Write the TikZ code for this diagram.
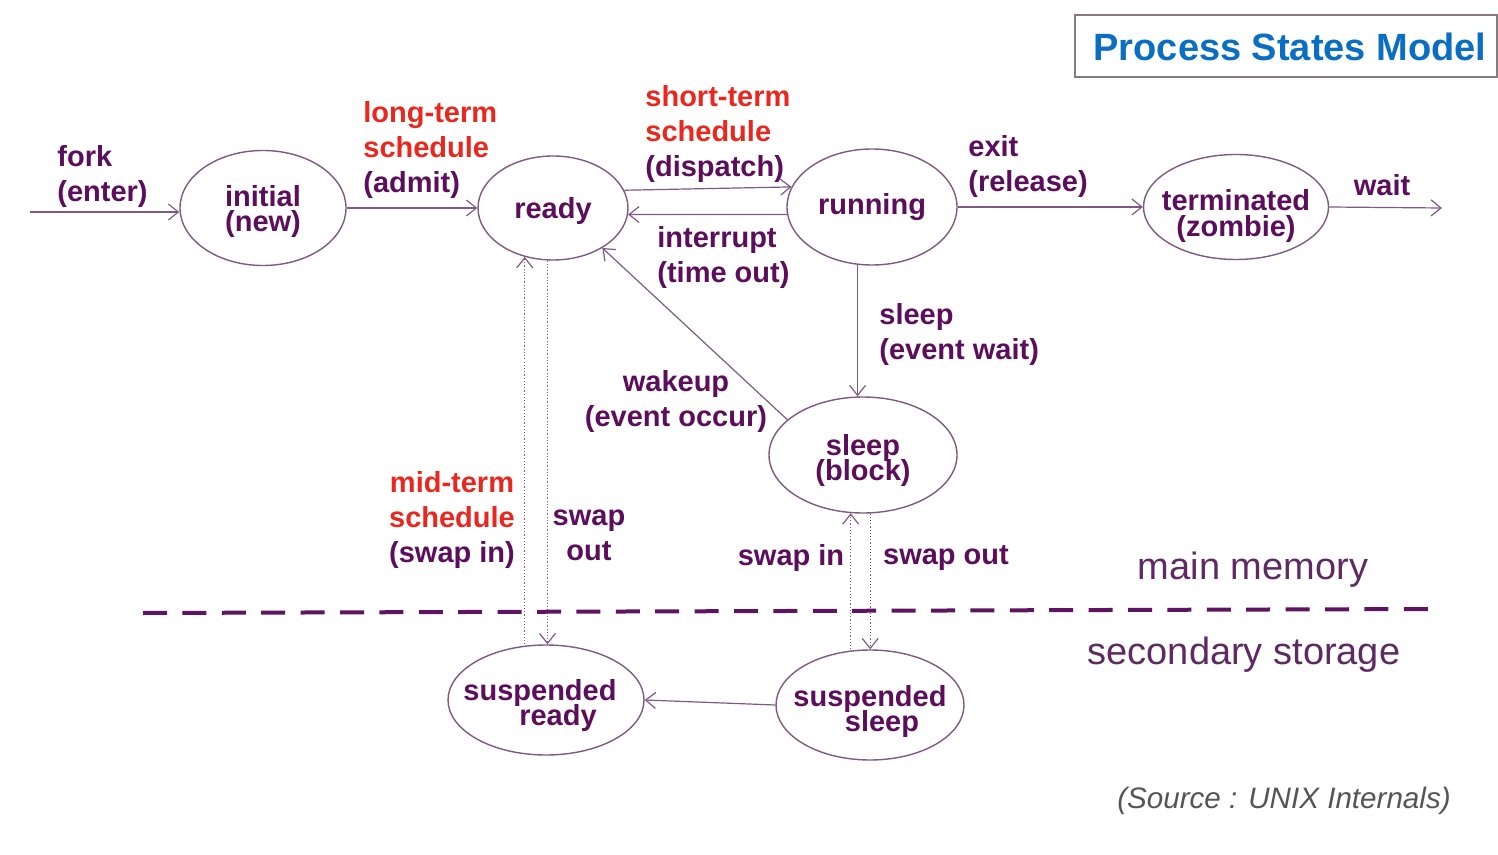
\documentclass[tikz,border=0pt]{standalone}
\usepackage{fontspec}
\setmainfont{Liberation Sans}
\usetikzlibrary{shapes.geometric,arrows.meta}
\definecolor{txt}{HTML}{5C0E5C}
\definecolor{lin}{HTML}{7E5A82}
\definecolor{redt}{HTML}{E8281E}
\definecolor{bluet}{HTML}{0A6FC2}
\definecolor{dashc}{HTML}{5E1460}
\definecolor{memc}{HTML}{5E2A62}
\definecolor{srcc}{HTML}{555555}
\definecolor{boxc}{HTML}{8A7A80}
\newcommand{\zb}[1]{\makebox[0pt]{#1}}
\newcommand{\zt}[1]{\rule{0pt}{#1}}
\newcommand{\stfont}{\bfseries\fontsize{14.5}{12.5}\selectfont\lineskiplimit=-20pt\relax}
\begin{document}
\begin{tikzpicture}[x=0.5pt,y=-0.5pt,
  st/.style={ellipse,draw=lin,line width=0.7pt,inner sep=0pt,text=txt,font=\stfont,align=center},
  lbl/.style={text=txt,font=\bfseries\fontsize{14.5}{17.5}\selectfont,inner sep=0pt},
  arr/.style={draw=lin,line width=0.6pt,-{Straight Barb[length=5pt,width=8pt]}},
  swp/.style={arr,densely dotted},
  memlbl/.style={text=memc,font=\fontsize{19}{22}\selectfont,inner sep=0pt}
]
\fill[white] (0,0) rectangle (1498,855);
\useasboundingbox (0,0) rectangle (1498,855);

% title
\draw[boxc,line width=0.6pt] (1075,15) rectangle (1497,77);
\node[text=bluet,font=\bfseries\fontsize{19}{22}\selectfont,inner sep=0pt] (title) at (1290,47) {Process States Model};

% states
\node[st,minimum width=83pt,minimum height=57.5pt] (init) at (263,208) {\zt{14.4pt}\zb{initial}\\\zb{(new)}};
\node[st,minimum width=75pt,minimum height=52pt] (ready) at (553,208) {\zt{13.4pt}\zb{ready}};
\node[st,minimum width=85pt,minimum height=58pt] (run) at (872,207) {\zb{running}};
\node[st,minimum width=92.5pt,minimum height=52.5pt] (term) at (1236,207) {\zt{19.4pt}\zb{terminated}\\[0.5pt]\zb{(zombie)}};
\node[st,minimum width=94pt,minimum height=58pt] (sleep) at (863,455) {\zt{16.4pt}\zb{sleep}\\\zb{(block)}};
\node[st,minimum width=98pt,minimum height=55pt] (sr) at (546,700) {\zt{16.4pt}\zb{\hspace*{-6pt}suspended}\\\zb{\hspace*{12pt}ready}};
\node[st,minimum width=94pt,minimum height=55pt] (ss) at (870,705) {\zt{17.4pt}\zb{suspended}\\\zb{\hspace*{12pt}sleep}};

% free ends
\coordinate (forkstart) at (30,212);
\coordinate (waitend) at (1442,208);
\coordinate (dashA) at (143,613);
\coordinate (dashB) at (1428,609);

% connectors
\draw[arr] (forkstart) -- (forkstart -| init.west);
\draw[arr] (init.east) -- (ready.west);
\draw[arr] (ready.14) -- (run.166);
\draw[arr] (run.185) -- (ready.355);
\draw[arr] (run.east) -- (term.west);
\draw[arr] (term.east) -- (waitend);
\draw[arr] (run.256) -- (run.256 |- sleep.north);
\draw[arr] (sleep.155) -- (ready.321);
\draw[swp] (ready.240 |- sr.north) -- (ready.240);
\draw[swp] (ready.264) -- (ready.264 |- sr.north);
\draw[swp] (sleep.258 |- ss.north) -- (sleep.258);
\draw[swp] (sleep.277) -- (sleep.277 |- ss.north);
\draw[arr] (ss.west) -- (sr.east);

% memory boundary
\draw[dashc,line width=2pt,dash pattern=on 12pt off 7.7pt] (dashA) -- (dashB);

% labels
\node[lbl,align=left,anchor=west] (lfork) at (57,177) {fork\\(enter)};
\node[lbl,align=left,anchor=west] (llong) at (363,150) {\textcolor{redt}{long-term}\\\textcolor{redt}{schedule}\\(admit)};
\node[lbl,align=left,anchor=west] (lshort) at (645,134) {\textcolor{redt}{short-term}\\\textcolor{redt}{schedule}\\(dispatch)};
\node[lbl,align=left,anchor=west] (lint) at (657,258) {interrupt\\(time out)};
\node[lbl,align=left,anchor=west] (lexit) at (968,167) {exit\\(release)};
\node[lbl] (lwait) at (1382,185) {wait};
\node[lbl,align=left,anchor=west] (lsleep) at (879,335) {sleep\\(event wait)};
\node[lbl,align=center] (lwake) at (676,402) {wakeup\\(event occur)};
\node[lbl,align=center] (lmid) at (452,520) {\textcolor{redt}{mid-term}\\\textcolor{redt}{schedule}\\(swap in)};
\node[lbl,align=center] (lswo) at (589,535) {swap\\out};
\node[lbl] (lswi2) at (791,558) {swap in};
\node[lbl] (lswo2) at (946,558) {swap out};
\node[memlbl] (lmain) at (1253,570) {main memory};
\node[memlbl] (lsec) at (1244,655) {secondary storage};
\node[text=srcc,font=\itshape\fontsize{14.8}{17}\selectfont,inner sep=0pt] (lsrc) at (1284,801) {(Source : UNIX Internals)};
\end{tikzpicture}
\end{document}
